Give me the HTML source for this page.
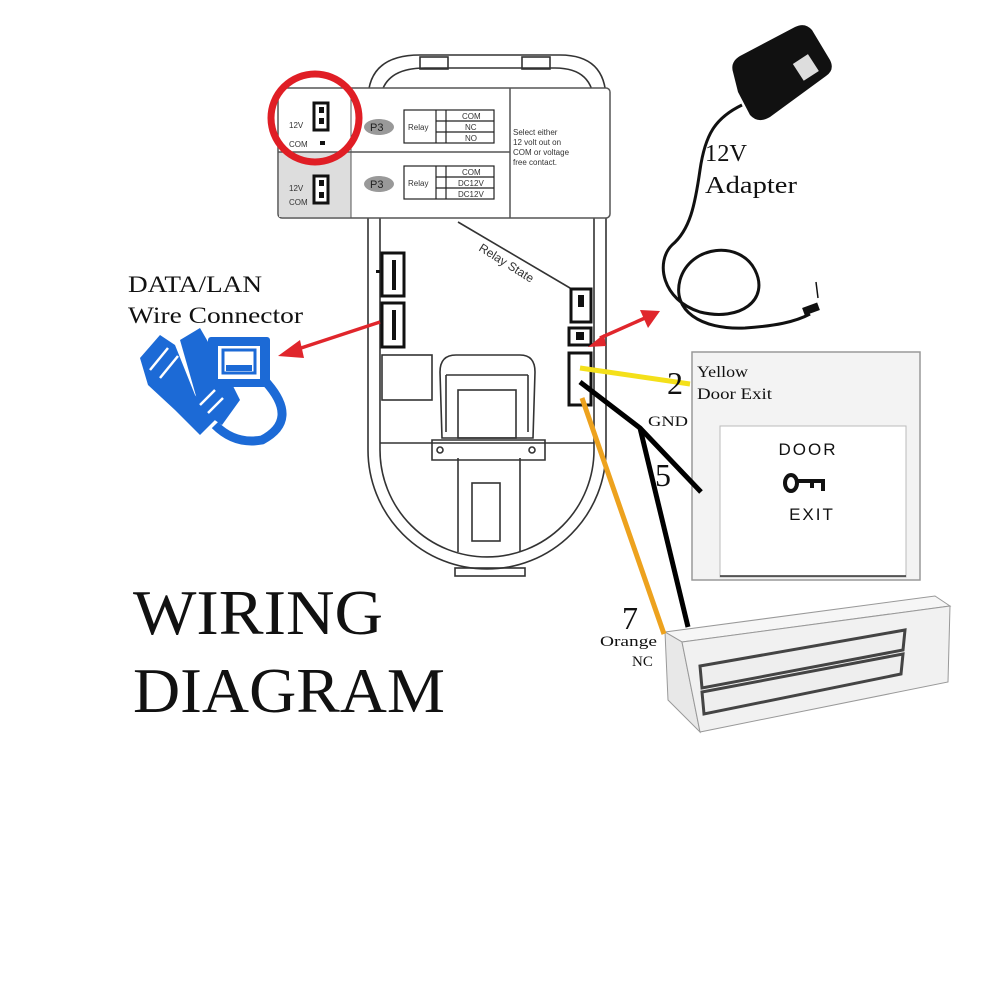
<!DOCTYPE html>
<html><head><meta charset="utf-8"><style>
html,body{margin:0;padding:0;background:#fff;width:991px;height:991px;overflow:hidden}
svg{display:block}
.s{font-family:"Liberation Serif",serif}
.a{font-family:"Liberation Sans",sans-serif}
</style></head><body>
<svg width="991" height="991" viewBox="0 0 991 991" xmlns="http://www.w3.org/2000/svg">
<rect width="991" height="991" fill="#fff"/>
<g fill="none" stroke="#333" stroke-width="1.6">
<path d="M368,100 Q368,55 420,55 L560,55 Q606,55 606,100 L606,450 A119,119 0 0 1 368,450 Z"/>
<path d="M380,105 Q380,68 425,68 L555,68 Q594,68 594,105 L594,450 A107,107 0 0 1 380,450 Z"/>
<rect x="420" y="57" width="28" height="12"/><rect x="522" y="57" width="28" height="12"/>
<rect x="455" y="568" width="70" height="8"/>
<line x1="380" y1="443" x2="594" y2="443"/>
<line x1="458" y1="458" x2="458" y2="552"/><line x1="520" y1="458" x2="520" y2="552"/>
<rect x="472" y="483" width="28" height="58"/>
<rect x="382" y="355" width="50" height="45"/>
<path d="M440,372 Q440,355 456,355 L520,355 Q535,355 535,372 L533,438 L442,438 Z"/>
<path d="M446,375 L446,432 M528,375 L528,432 M446,375 L528,375"/>
<rect x="458" y="390" width="58" height="48"/>
<path d="M432,440 L545,440 L545,460 L432,460 Z"/>
<circle cx="440" cy="450" r="3"/><circle cx="532" cy="450" r="3"/>
<line x1="458" y1="222" x2="570" y2="288"/>
</g>
<g fill="#fff" stroke="#111" stroke-width="3">
<rect x="382" y="253" width="22" height="43"/><rect x="382" y="303" width="22" height="44"/>
<rect x="571" y="289" width="20" height="33"/><rect x="569" y="328" width="22" height="17"/>
<rect x="569" y="353" width="22" height="52"/>
</g>
<g fill="#111">
<rect x="392" y="260" width="4" height="30"/><rect x="392" y="310" width="4" height="30"/>
<rect x="578" y="295" width="6" height="12"/><rect x="576" y="332" width="8" height="8"/>
<rect x="376" y="270" width="4" height="3"/>
</g>
<text class="a" x="478" y="250" font-size="12" fill="#333" transform="rotate(32 478 250)">Relay State</text>
<rect x="278" y="88" width="332" height="130" rx="4" fill="#fff" stroke="#555" stroke-width="1.5"/>
<rect x="279" y="152" width="72" height="65" fill="#ddd"/>
<line x1="278" y1="152" x2="510" y2="152" stroke="#555" stroke-width="1.5"/>
<line x1="351" y1="88" x2="351" y2="218" stroke="#555"/>
<line x1="510" y1="88" x2="510" y2="218" stroke="#555" stroke-width="1.5"/>
<g fill="#fff" stroke="#111" stroke-width="3"><rect x="314" y="103" width="14" height="27"/><rect x="314" y="176" width="14" height="27"/></g>
<rect x="319" y="107" width="5" height="6" fill="#111"/><rect x="319" y="118" width="5" height="6" fill="#111"/>
<rect x="319" y="180" width="5" height="6" fill="#111"/><rect x="319" y="192" width="5" height="6" fill="#111"/>
<rect x="320" y="141" width="5" height="4" fill="#111"/>
<g class="a" font-size="8" fill="#333">
<text x="289" y="128">12V</text><text x="289" y="147">COM</text>
<text x="289" y="191">12V</text><text x="289" y="205">COM</text>
<text x="513" y="135">Select either</text><text x="513" y="145">12 volt out on</text>
<text x="513" y="155">COM or voltage</text><text x="513" y="165">free contact.</text>
</g>
<ellipse cx="379" cy="127" rx="15" ry="8" fill="#999"/><ellipse cx="379" cy="184" rx="15" ry="8" fill="#999"/>
<text class="a" x="370" y="131" font-size="11" fill="#222">P3</text><text class="a" x="370" y="188" font-size="11" fill="#222">P3</text>
<g fill="none" stroke="#222" stroke-width="1.2">
<rect x="404" y="110" width="90" height="33"/><line x1="436" y1="110" x2="436" y2="143"/><line x1="446" y1="110" x2="446" y2="143"/><line x1="436" y1="121" x2="494" y2="121"/><line x1="436" y1="132" x2="494" y2="132"/>
<rect x="404" y="166" width="90" height="33"/><line x1="436" y1="166" x2="436" y2="199"/><line x1="446" y1="166" x2="446" y2="199"/><line x1="436" y1="177" x2="494" y2="177"/><line x1="436" y1="188" x2="494" y2="188"/>
</g>
<g class="a" font-size="8" fill="#333">
<text x="408" y="130">Relay</text><text x="408" y="186">Relay</text>
<text x="462" y="119">COM</text><text x="465" y="130">NC</text><text x="465" y="141">NO</text>
<text x="462" y="175">COM</text><text x="458" y="186">DC12V</text><text x="458" y="197">DC12V</text>
</g>
<circle cx="315" cy="118" r="44" fill="none" stroke="#e01e25" stroke-width="7"/>
<g stroke="#e0262c" stroke-width="3.5" fill="#e0262c">
<line x1="380" y1="322" x2="295" y2="350"/><polygon points="278,356 300,340 304,358" stroke="none"/>
<line x1="600" y1="338" x2="645" y2="318"/><polygon points="660,311 640,310 648,328" stroke="none"/>
<polygon points="588,347 604,334 606,346" stroke="none"/>
</g>
<g fill="#1c6ad6">
<rect x="208" y="337" width="62" height="50" rx="3"/>
<path d="M180,340 L200,328 L230,380 L240,400 L222,425 L200,410 Z"/>
<path d="M140,358 L160,335 L175,345 L195,395 L215,420 L200,435 L175,410 L148,385 Z"/>
<path d="M266,382 Q300,420 262,440 Q235,445 215,425" fill="none" stroke="#1c6ad6" stroke-width="9"/>
</g>
<g fill="#fff"><rect x="218" y="346" width="42" height="33"/></g>
<g fill="#1c6ad6"><path d="M223,350 L255,350 L255,373 L223,373 Z" fill="none" stroke="#1c6ad6" stroke-width="3"/><rect x="226" y="365" width="26" height="6"/></g>
<g stroke="#fff" stroke-width="2.5"><line x1="150" y1="370" x2="168" y2="348"/><line x1="160" y1="378" x2="178" y2="356"/><line x1="200" y1="405" x2="215" y2="390"/><line x1="208" y1="413" x2="223" y2="398"/></g>
<text class="s" x="128" y="292" font-size="23" fill="#111" textLength="134" lengthAdjust="spacingAndGlyphs">DATA/LAN</text>
<text class="s" x="128" y="323" font-size="23" fill="#111" textLength="175" lengthAdjust="spacingAndGlyphs">Wire Connector</text>
<!-- adapter -->
<path d="M738,92 L733,72 Q730,62 740,56 L795,27 Q805,22 812,30 L830,60 Q835,70 826,76 L770,117 Q758,124 750,115 Z" fill="#111"/>
<rect x="797" y="58" width="18" height="20" fill="#ddd" transform="rotate(-33 805 68)"/>
<path d="M742,105 C715,118 705,135 700,170 C695,205 690,230 672,245 C655,262 662,300 700,312 C740,322 770,300 755,270 C740,240 690,245 680,280 C672,310 700,330 745,328 C775,326 795,322 810,314" fill="none" stroke="#111" stroke-width="3"/>
<rect x="803" y="305" width="16" height="8" fill="#111" transform="rotate(-20 811 309)"/>
<line x1="818" y1="298" x2="816" y2="282" stroke="#111" stroke-width="1.5"/>
<text class="s" x="705" y="161" font-size="24" fill="#111" textLength="42" lengthAdjust="spacingAndGlyphs">12V</text>
<text class="s" x="705" y="193" font-size="24" fill="#111" textLength="92" lengthAdjust="spacingAndGlyphs">Adapter</text>
<rect x="692" y="352" width="228" height="228" fill="#f3f3f3" stroke="#999" stroke-width="1.5"/>
<rect x="720" y="426" width="186" height="151" fill="#fff" stroke="#bbb"/>
<line x1="720" y1="576" x2="906" y2="576" stroke="#333" stroke-width="1.5"/>
<text class="a" x="808" y="455" font-size="17" text-anchor="middle" fill="#111" letter-spacing="2">DOOR</text>
<text class="a" x="812" y="520" font-size="17" text-anchor="middle" fill="#111" letter-spacing="2">EXIT</text>
<ellipse cx="791" cy="483" rx="6" ry="8" fill="none" stroke="#111" stroke-width="4"/>
<path d="M797,481 L823,481 L823,491 M812,481 L812,488" fill="none" stroke="#111" stroke-width="4"/>
<path d="M665,632 L935,596 L950,606 L682,642 Z" fill="#f6f6f6" stroke="#999"/>
<path d="M665,632 L682,642 L700,732 L668,700 Z" fill="#e8e8e8" stroke="#999"/>
<path d="M682,642 L950,606 L948,682 L700,732 Z" fill="#f1f1f1" stroke="#999"/>
<path d="M700,666 L905,630 L903,650 L702,688 Z" fill="#eee" stroke="#444" stroke-width="3"/>
<path d="M702,692 L903,654 L901,674 L704,714 Z" fill="#eee" stroke="#444" stroke-width="3"/>
<line x1="580" y1="368" x2="690" y2="384" stroke="#f4e01a" stroke-width="5"/>
<path d="M580,382 L640,428 L701,492" fill="none" stroke="#000" stroke-width="5"/>
<line x1="640" y1="428" x2="688" y2="627" stroke="#000" stroke-width="5"/>
<line x1="582" y1="398" x2="664" y2="634" stroke="#eda21e" stroke-width="5"/>
<text class="s" x="667" y="394" font-size="32" fill="#111">2</text>
<text class="s" x="697" y="377" font-size="16" fill="#111" textLength="51" lengthAdjust="spacingAndGlyphs">Yellow</text>
<text class="s" x="697" y="399" font-size="16" fill="#111" textLength="75" lengthAdjust="spacingAndGlyphs">Door Exit</text>
<text class="s" x="648" y="426" font-size="15" fill="#111" textLength="40" lengthAdjust="spacingAndGlyphs">GND</text>
<text class="s" x="655" y="486" font-size="32" fill="#111">5</text>
<text class="s" x="622" y="629" font-size="32" fill="#111">7</text>
<text class="s" x="600" y="646" font-size="15" fill="#111" textLength="57" lengthAdjust="spacingAndGlyphs">Orange</text>
<text class="s" x="632" y="666" font-size="15" fill="#111">NC</text>
<text class="s" x="133" y="634" font-size="64" fill="#111" textLength="250" lengthAdjust="spacingAndGlyphs">WIRING</text>
<text class="s" x="133" y="712" font-size="64" fill="#111" textLength="312" lengthAdjust="spacingAndGlyphs">DIAGRAM</text>
</svg>
</body></html>
